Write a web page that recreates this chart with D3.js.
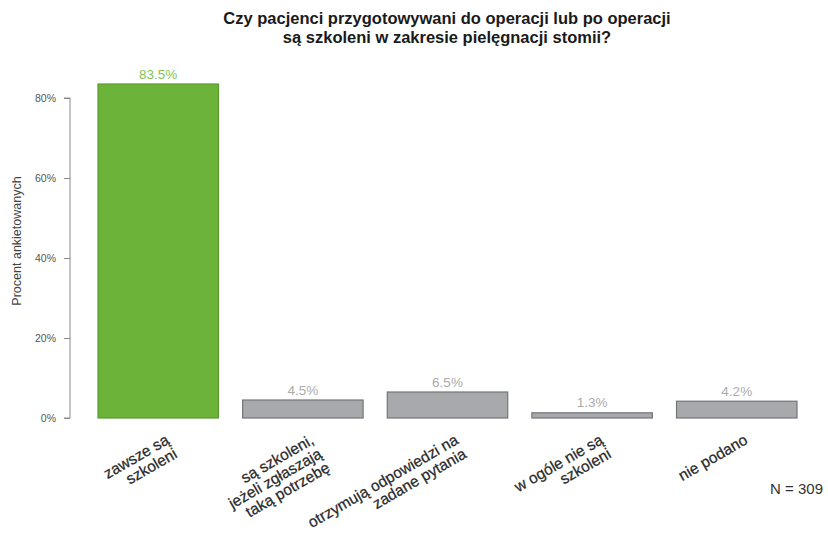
<!DOCTYPE html>
<html>
<head>
<meta charset="utf-8">
<script src="https://cdn.jsdelivr.net/npm/d3@7"></script>
<style>
  body { margin: 0; background: #fff; }
  svg { display: block; font-family: "Liberation Sans", Arial, Helvetica, sans-serif; }
</style>
</head>
<body>
<svg id="chart" width="828" height="534"></svg>
<script>
const titleLines = ["Czy pacjenci przygotowywani do operacji lub po operacji", "są szkoleni w zakresie pielęgnacji stomii?"];
const categories = [
  ["zawsze są", "szkoleni"],
  ["są szkoleni,", "jeżeli zgłaszają", "taką potrzebę"],
  ["otrzymują odpowiedzi na", "zadane pytania"],
  ["w ogóle nie są", "szkoleni"],
  ["nie podano"]
];
const values = [83.5, 4.5, 6.5, 1.3, 4.2];
const valueLabels = ["83.5%", "4.5%", "6.5%", "1.3%", "4.2%"];
const highlight = [true, false, false, false, false];
const yTicks = [0, 20, 40, 60, 80];
const yTickLabels = ["0%", "20%", "40%", "60%", "80%"];
const yTitle = "Procent ankietowanych";
const note = "N = 309";

const svg = d3.select("#chart");
const ids = d3.range(values.length);

const x = d3.scaleBand().domain(ids).range([86, 809]).paddingInner(0.167).paddingOuter(0.083);
const y = d3.scaleLinear().domain([0, 80]).range([418, 98]);

// title
svg.append("text")
  .attr("x", 447).attr("y", 24)
  .attr("text-anchor", "middle")
  .attr("font-weight", "bold").attr("font-size", 16.5).attr("fill", "#1a1a1a")
  .selectAll("tspan").data(titleLines).join("tspan")
  .attr("x", 447).attr("dy", (d, i) => i === 0 ? 0 : 19)
  .text(d => d);

// y axis
const yAxis = d3.axisLeft(y).tickValues(yTicks).tickFormat((d, i) => yTickLabels[i]).tickSize(6).tickPadding(8);
const ga = svg.append("g").attr("transform", "translate(70,0)").call(yAxis);
ga.select(".domain").attr("stroke", "#8a8a8a").attr("d", `M-6,${y(0)}H0V${y(80)}H-6`);
ga.selectAll(".tick line").attr("stroke", "#8a8a8a");
ga.selectAll(".tick text").attr("font-size", 10.5).attr("fill", "#555").attr("font-family", "Liberation Sans, Arial, sans-serif");

svg.append("text")
  .attr("transform", "translate(21,241) rotate(-90)")
  .attr("text-anchor", "middle")
  .attr("font-size", 12.5).attr("fill", "#444")
  .text(yTitle);

// bars
svg.append("g").selectAll("rect").data(ids).join("rect")
  .attr("x", i => x(i))
  .attr("y", i => y(values[i]))
  .attr("width", x.bandwidth())
  .attr("height", i => y(0) - y(values[i]))
  .attr("fill", i => highlight[i] ? "#6cb33a" : "#a8a9ad")
  .attr("stroke", i => highlight[i] ? "#5a9a2e" : "#747578")
  .attr("stroke-width", 1.2);

// value labels
svg.append("g").selectAll("text").data(ids).join("text")
  .attr("x", i => x(i) + x.bandwidth() / 2)
  .attr("y", i => y(values[i]) - 5.5)
  .attr("text-anchor", "middle")
  .attr("font-size", 13.5)
  .attr("fill", i => highlight[i] ? "#86c34f" : "#ababab")
  .text(i => valueLabels[i]);

// category labels
const cl = svg.append("g").selectAll("g").data(ids).join("g")
  .attr("transform", i => `translate(${x(i) + x.bandwidth() / 2 + 12},443) rotate(-30)`);
cl.each(function(i) {
  d3.select(this).selectAll("text").data(categories[i]).join("text")
    .attr("x", 0).attr("y", (d, k) => k * 16)
    .attr("text-anchor", "end")
    .attr("font-size", 15.5).attr("fill", "#2a2a2a")
    .attr("stroke", "#2a2a2a").attr("stroke-width", 0.25)
    .text(d => d);
});

// note
svg.append("text")
  .attr("x", 823).attr("y", 494)
  .attr("text-anchor", "end")
  .attr("font-size", 15).attr("fill", "#333")
  .text(note);
</script>
</body>
</html>
